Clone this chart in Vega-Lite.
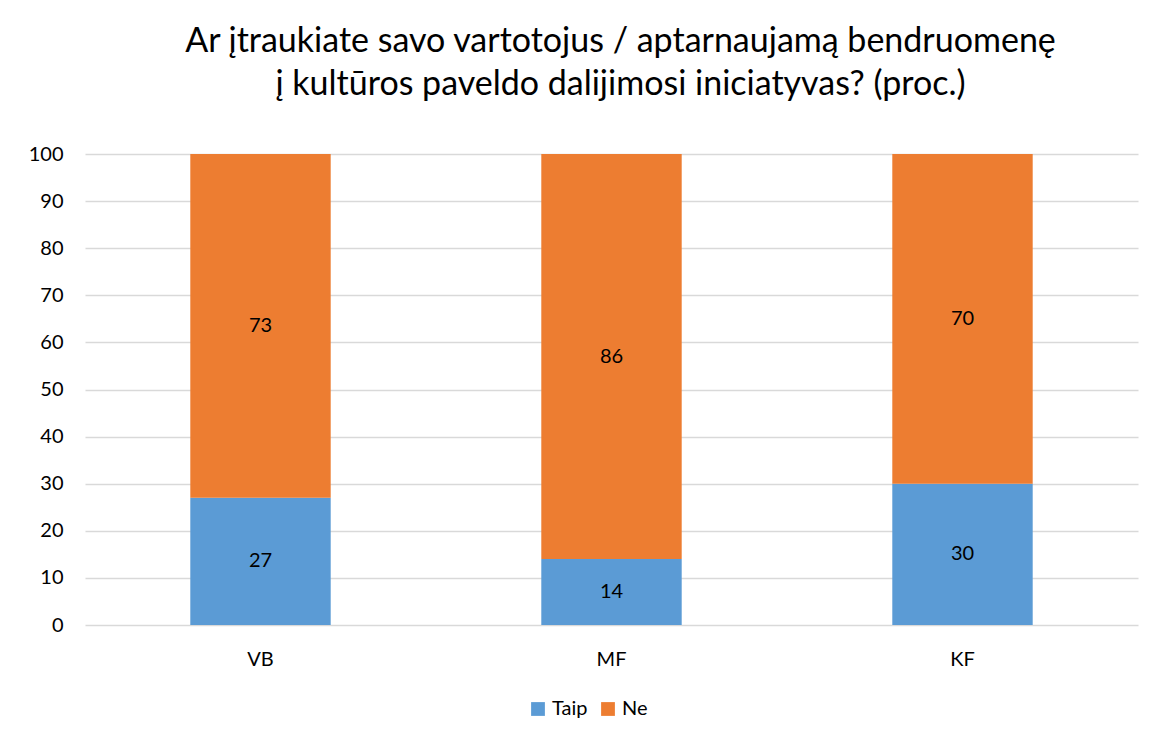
{
  "$schema": "https://vega.github.io/schema/vega-lite/v6.json",
  "width": 1053,
  "height": 471,
  "autosize": {"type": "none"},
  "padding": {"left": 85, "top": 154, "right": 13, "bottom": 119},
  "background": "white",
  "title": {
    "text": ["Ar įtraukiate savo vartotojus / aptarnaujamą bendruomenę", "į kultūros paveldo dalijimosi iniciatyvas? (proc.)"],
    "font": "Lato",
    "fontSize": 34,
    "fontWeight": "normal",
    "color": "#000000",
    "anchor": "middle",
    "dx": 9,
    "offset": 42,
    "lineHeight": 43
  },
  "data": {
    "values": [
      {"group": "VB", "answer": "Taip", "value": 27},
      {"group": "VB", "answer": "Ne", "value": 73},
      {"group": "MF", "answer": "Taip", "value": 14},
      {"group": "MF", "answer": "Ne", "value": 86},
      {"group": "KF", "answer": "Taip", "value": 30},
      {"group": "KF", "answer": "Ne", "value": 70}
    ]
  },
  "transform": [
    {"calculate": "datum.answer === 'Taip' ? 0 : 1", "as": "ord"},
    {"stack": "value", "groupby": ["group"], "sort": [{"field": "ord", "order": "ascending"}], "as": ["y0", "y1"]},
    {"calculate": "(datum.y0 + datum.y1) / 2", "as": "mid"}
  ],
  "encoding": {
    "x": {
      "field": "group",
      "type": "nominal",
      "sort": ["VB", "MF", "KF"],
      "scale": {"paddingInner": 0.6, "paddingOuter": 0.3},
      "axis": {
        "title": null,
        "labelAngle": 0,
        "labelFont": "Lato",
        "labelFontSize": 20,
        "labelColor": "#000000",
        "labelPadding": 24,
        "ticks": false,
        "domain": false,
        "grid": false
      }
    }
  },
  "layer": [
    {
      "mark": {"type": "bar"},
      "encoding": {
        "y": {
          "field": "y0",
          "type": "quantitative",
          "scale": {"domain": [0, 100]},
          "axis": {
            "title": null,
            "values": [0, 10, 20, 30, 40, 50, 60, 70, 80, 90, 100],
            "labelFont": "Lato",
            "labelFontSize": 20,
            "labelColor": "#000000",
            "labelPadding": 22,
            "ticks": false,
            "domain": false,
            "grid": true,
            "gridColor": "#d9d9d9",
            "gridWidth": 1.5
          }
        },
        "y2": {"field": "y1"},
        "color": {
          "field": "answer",
          "type": "nominal",
          "scale": {"domain": ["Taip", "Ne"], "range": ["#5b9bd5", "#ed7d31"]},
          "legend": {
            "title": null,
            "orient": "none",
            "direction": "horizontal",
            "legendX": 443,
            "legendY": 545,
            "symbolType": "square",
            "symbolSize": 190,
            "symbolStrokeWidth": 0,
            "labelFont": "Lato",
            "labelFontSize": 20,
            "labelColor": "#000000",
            "labelOffset": 4,
            "columnPadding": 10
          }
        }
      }
    },
    {
      "mark": {"type": "text", "font": "Lato", "fontSize": 20, "color": "#000000", "baseline": "middle"},
      "encoding": {
        "y": {"field": "mid", "type": "quantitative"},
        "text": {"field": "value", "type": "quantitative"}
      }
    }
  ],
  "config": {"view": {"stroke": null}}
}
